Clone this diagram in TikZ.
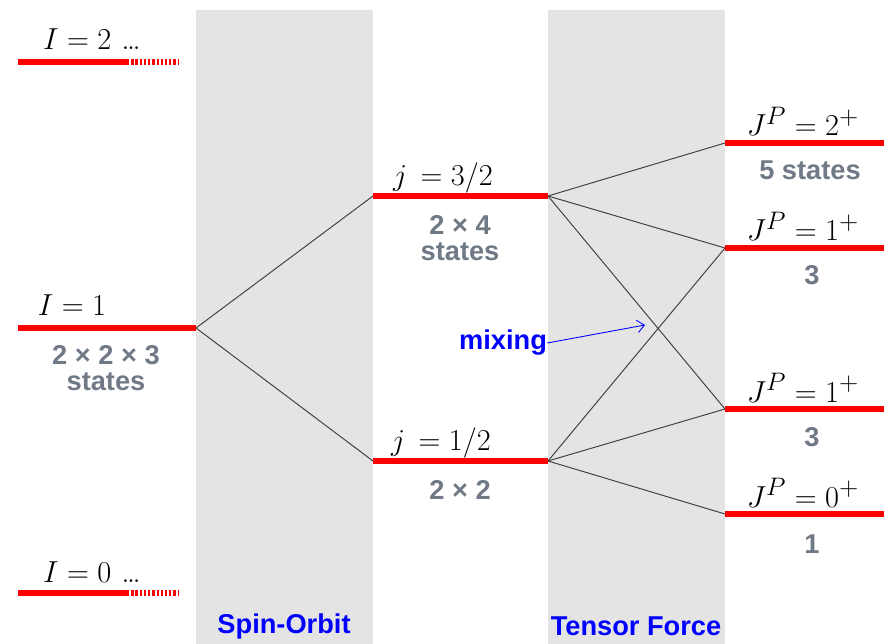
\documentclass[tikz,border=0pt]{standalone}
\usepackage{fontspec}
\setsansfont{Liberation Sans}
\usepackage{tikz}
\usetikzlibrary{arrows.meta, positioning}
\definecolor{levelred}{RGB}{255,0,0}
\definecolor{bandgray}{RGB}{228,228,228}
\definecolor{countgray}{RGB}{112,122,134}
\definecolor{forceblue}{RGB}{0,0,255}
\tikzset{
  level/.style={draw=levelred, line width=2.9pt},
  tail/.style={draw=levelred, line width=2.9pt, dash pattern=on 1.3pt off 1.1pt},
  band/.style={fill=bandgray, draw=none},
  lbl/.style={font=\fontsize{19}{22}\selectfont, inner sep=0pt, anchor=base},
  cnt/.style={text=countgray, font=\sffamily\bfseries\fontsize{15.5}{15}\selectfont,
    align=center, inner sep=0pt},
  frc/.style={text=forceblue, font=\sffamily\bfseries\fontsize{15.5}{16}\selectfont,
    inner sep=0pt},
  link/.style={draw=black!75, line width=0.55pt},
  mixarrow/.style={-{Straight Barb[length=4pt, width=7pt]}, draw=forceblue, line width=0.5pt},
}
\begin{document}
\begin{tikzpicture}[x=0.02cm, y=-0.02cm]
\useasboundingbox (0,0) rectangle (884,644);
% bands
\fill[band] (196,10) rectangle (373,644);
\fill[band] (548,10) rectangle (725,644);

% level end points
\coordinate (l2L) at (18,62);   \coordinate (l2M) at (127,62);  \coordinate (l2R) at (178,62);
\coordinate (l1L) at (18,328);  \coordinate (l1R) at (196,328);
\coordinate (l0L) at (18,593);  \coordinate (l0M) at (127,593); \coordinate (l0R) at (178,593);
\coordinate (j3L) at (373,196); \coordinate (j3R) at (548,196);
\coordinate (j1L) at (373,461); \coordinate (j1R) at (548,461);
\coordinate (J2L) at (725,143);  \coordinate (J2R) at (884,143);
\coordinate (J1aL) at (725,248); \coordinate (J1aR) at (884,248);
\coordinate (J1bL) at (725,409); \coordinate (J1bR) at (884,409);
\coordinate (J0L) at (725,514);  \coordinate (J0R) at (884,514);

% splitting
\draw[link] (l1R) -- (j3L);
\draw[link] (l1R) -- (j1L);
\draw[link] (j3R) -- (J2L);
\draw[link] (j3R) -- (J1aL);
\draw[link] (j3R) -- (J1bL);
\draw[link] (j1R) -- (J1aL);
\draw[link] (j1R) -- (J1bL);
\draw[link] (j1R) -- (J0L);

% levels
\draw[level] (l2L) -- (l2M); \draw[tail] (l2M) -- (l2R);
\draw[level] (l1L) -- (l1R);
\draw[level] (l0L) -- (l0M); \draw[tail] (l0M) -- (l0R);
\draw[level] (j3L) -- (j3R);
\draw[level] (j1L) -- (j1R);
\draw[level] (J2L) -- (J2R);
\draw[level] (J1aL) -- (J1aR);
\draw[level] (J1bL) -- (J1bR);
\draw[level] (J0L) -- (J0R);

% labels
\node[lbl] (l2lab) at (92,50) {$I = 2$ \ldots};
\node[lbl] (l1lab) at (72,316) {$I = 1$};
\node[lbl] (l0lab) at (92,582) {$I = 0$ \ldots};
\node[lbl] (j3lab) at (443,186) {$j\,=3/2$};
\node[lbl] (j1lab) at (441,450) {$j\,=1/2$};
\node[lbl] (J2lab) at (803,136) {$J^P = 2^+$};
\node[lbl] (J1alab) at (803,241) {$J^P = 1^+$};
\node[lbl] (J1blab) at (803,402) {$J^P = 1^+$};
\node[lbl] (J0lab) at (803,507) {$J^P = 0^+$};

\node[cnt] (l1cnt) at (106,368) {2 × 2 × 3\\states};
\node[cnt] (j3cnt) at (460,238) {2 × 4\\states};
\node[cnt] (j1cnt) at (460,490) {2 × 2};
\node[cnt] (J2cnt) at (810,170) {5 states};
\node[cnt] (J1acnt) at (812,275) {3};
\node[cnt] (J1bcnt) at (812,437) {3};
\node[cnt] (J0cnt) at (812,544) {1};

\node[frc] (mixing) at (503,343) {mixing};
\coordinate (mixtip) at (645,325);
\draw[mixarrow] (mixing.east) -- (mixtip);

\node[frc] (solab) at (284,626) {Spin-Orbit};
\node[frc] (tflab) at (636,626) {Tensor Force};
\end{tikzpicture}
\end{document}
